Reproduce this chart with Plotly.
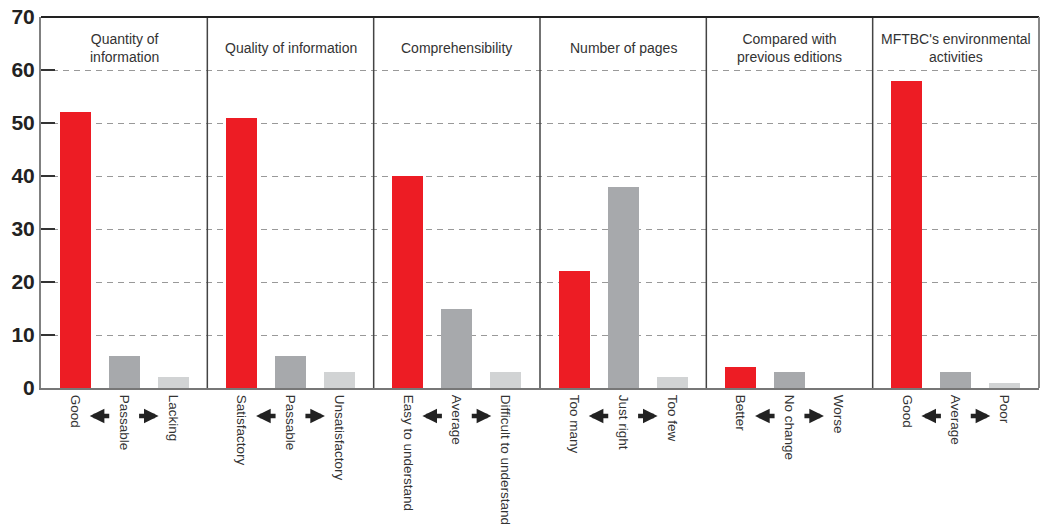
import plotly.graph_objects as go

panel_titles = ["Quantity of<br>information", "Quality of information", "Comprehensibility",
                "Number of pages", "Compared with<br>previous editions",
                "MFTBC's environmental<br>activities"]
labels_first = ["Good", "Satisfactory", "Easy to understand", "Too many", "Better", "Good"]
labels_mid = ["Passable", "Passable", "Average", "Just right", "No change", "Average"]
labels_last = ["Lacking", "Unsatisfactory", "Difficult to understand", "Too few", "Worse", "Poor"]
values_first = [52, 51, 40, 22, 4, 58]
values_mid = [6, 6, 15, 38, 3, 3]
values_last = [2, 3, 3, 2, 0, 1]
y_ticks = [0, 10, 20, 30, 40, 50, 60, 70]

RED, GRAY, LIGHT = "#ED1C24", "#A7A9AC", "#D1D3D4"
n = len(panel_titles)
off = 0.294
bw = 0.186
centers = [i + 0.5 for i in range(n)]
x_first = [c - off for c in centers]
x_mid = centers
x_last = [c + off for c in centers]

fig = go.Figure()
for xs, vs, col in [(x_first, values_first, RED), (x_mid, values_mid, GRAY), (x_last, values_last, LIGHT)]:
    fig.add_trace(go.Bar(x=xs, y=vs, width=bw, marker=dict(color=col, line=dict(width=0)),
                         showlegend=False, hoverinfo="skip"))

tickvals, ticktext = [], []
for i in range(n):
    tickvals += [x_first[i], x_mid[i], x_last[i]]
    ticktext += [labels_first[i], labels_mid[i], labels_last[i]]

H_PLOT = 371.0
def py(pix):
    return (388 - pix) / H_PLOT

annotations = []
for i, t in enumerate(panel_titles):
    annotations.append(dict(x=centers[i], y=py(48), xref="x", yref="paper", text=t,
                            showarrow=False, xanchor="center", yanchor="middle",
                            font=dict(family="Liberation Sans, Arial, sans-serif", size=14, color="#333")))
    annotations.append(dict(x=centers[i] - 0.207, y=py(416), xref="x", yref="paper", text="",
                            showarrow=True, ax=21, ay=0, arrowhead=2, arrowsize=0.65,
                            arrowwidth=4.5, arrowcolor="#222", standoff=0, startstandoff=0))
    annotations.append(dict(x=centers[i] + 0.207, y=py(416), xref="x", yref="paper", text="",
                            showarrow=True, ax=-21, ay=0, arrowhead=2, arrowsize=0.65,
                            arrowwidth=4.5, arrowcolor="#222", standoff=0, startstandoff=0))

shapes = []
for i in range(1, n):
    shapes.append(dict(type="line", xref="x", yref="paper", x0=i, x1=i, y0=0, y1=1,
                       line=dict(color="#444", width=1.5)))
shapes.append(dict(type="line", xref="paper", yref="paper", x0=0, x1=1, y0=1, y1=1,
                   line=dict(color="#222", width=2)))
shapes.append(dict(type="line", xref="paper", yref="paper", x0=1, x1=1, y0=0, y1=1,
                   line=dict(color="#888", width=2)))

fig.update_layout(
    width=1040, height=524,
    margin=dict(l=41, r=1, t=17, b=136),
    paper_bgcolor="white", plot_bgcolor="white",
    bargap=0,
    xaxis=dict(range=[0, n], tickvals=tickvals, ticktext=ticktext, tickangle=90,
               showgrid=False, zeroline=False, showline=True, linecolor="#777", linewidth=2,
               ticks="", ticklabelstandoff=2, automargin=False,
               tickfont=dict(family="Liberation Sans, Arial", size=13.5, color="#333"),
               fixedrange=True),
    yaxis=dict(range=[0, 70], tickvals=y_ticks, showgrid=True, gridcolor="#999", gridwidth=1.2,
               griddash="6px,5px", zeroline=False, showline=True, linecolor="#808080", linewidth=2,
               ticks="inside", ticklen=14, tickcolor="#333", tickwidth=1.5, automargin=False,
               tickfont=dict(family="Liberation Sans, Arial", size=21, color="#222", weight="bold"),
               fixedrange=True),
    annotations=annotations,
    shapes=shapes,
)
fig.write_html("out.html", config={"displayModeBar": False},
               post_script="document.body.style.margin='0';document.body.style.overflow='hidden';")
